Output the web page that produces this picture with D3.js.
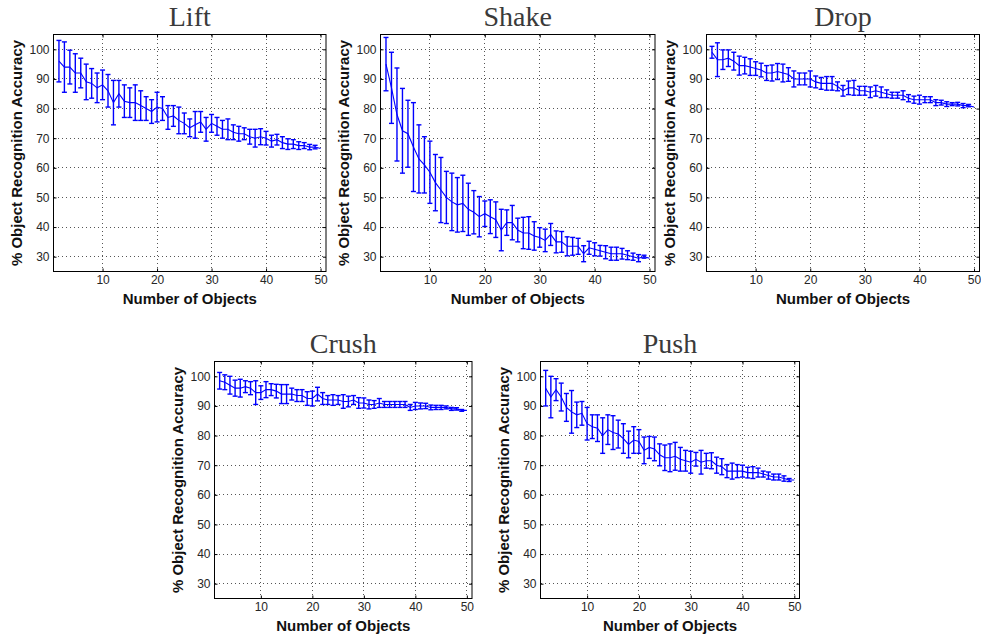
<!DOCTYPE html>
<html>
<head>
<meta charset="utf-8">
<script src="https://cdn.jsdelivr.net/npm/d3@7"></script>
<style>
  body { margin: 0; background: #fff; }
  svg { display: block; }
  .tick text { font-family: "Liberation Sans", Arial, sans-serif; font-size: 12px; fill: #262626; }
  .tick line { stroke: #000; }
</style>
</head>
<body>
<svg id="chart" width="981" height="635"></svg>
<script>
// number of objects on the x axis
var numObjects = [2,3,4,5,6,7,8,9,10,11,12,13,14,15,16,17,18,19,20,21,22,23,24,25,26,
  27,28,29,30,31,32,33,34,35,36,37,38,39,40,41,42,43,44,45,46,47,48,49,50];

var xTicks = [10, 20, 30, 40, 50];
var yTicks = [30, 40, 50, 60, 70, 80, 90, 100];

// mean accuracy and error (half bar height) per behaviour
var liftMean = [96,94,94,92,92,89,88.5,87,88,86,82,85,82.5,82,82,81,80,79,80.5,80,77,77.5,76,75,73.5,
  74.5,75.5,73,75,74,73,73,72,71.5,71.5,70.5,70,70.5,70,69,69.5,68.5,68,68,67.5,67.5,67,67,66.5];
var liftErr = [7,8.5,5.7,6.5,5,6,5,5,5,5.5,7.5,4.5,5.5,5,6,5,4,4,5,4,4,3.5,4.5,3.5,3,
  4.5,3.5,4,3,3,3,3.5,2.5,2.5,2,2.5,3,2.7,2.3,2,1.8,2,1.8,1.5,1.3,1,0.9,0.6,0];

var shakeMean = [95,87,78,72.5,71.5,67,63,61,58.5,55,52.5,50,48.5,47.5,48,46,45,43.5,44.5,43.5,42.5,39,41.5,41.5,39,
  38,38,37,36.5,35.5,37.5,35,35,33.5,33.5,33.5,31,33,32.5,32,31.5,31,31,31,30.5,30,29.5,30,29.5];
var shakeErr = [9,12,15.7,14.3,11.3,15,11.5,9.5,10.5,9.5,11,8.8,9.7,9.2,9.5,8.8,7.3,6.8,4.3,5.7,6,7,4.3,5.8,4,
  5.3,5.5,4.8,3.3,3.8,3.7,3.7,3.5,3.2,3,2.7,2.7,2.2,2.2,1.8,2.2,2.2,2.2,1.8,1.5,1.2,1.2,0.5,0];

var dropMean = [99,96.5,96.5,97,96,94.5,94.5,94,93.5,93,92,92,92.5,92,91.5,90,90,90,90,89,88.5,88.5,88.5,87.5,86,
  87,87,86,86,85.5,86,85.5,85,84.5,84.5,84.5,83.5,83,83,83,83,82,82,81.5,81.5,81.5,81,81,80.5];
var dropErr = [2,5.7,3.3,2.8,3,3.2,2.8,2.8,2.3,2.3,2.5,2.7,2.7,3,2.3,2.7,2,2,2.7,2,2,2.3,2.3,1.5,1.8,
  2.3,2.5,1.5,1.5,1.8,1.8,1.8,1.3,1,1,1.5,1.2,1.2,1.5,1,1,1,0.8,0.8,0.5,0.6,0.7,0.4,0];

var crushMean = [98.5,98,97,96,96,96.5,96,94.5,94.5,95.5,95.5,95,94,94,94,93.5,93.5,92.5,92.5,94,92.5,92,92,92,91.5,
  91.5,92,91,91,90.5,90.5,91,90.5,90.5,90.5,90.5,90.5,89.5,90,90,90,89.5,89.5,89.5,89.5,89,89,88.5,88.5];
var crushErr = [2.8,2.5,3,2.7,3,2,2.2,4,2.3,2.7,2,2.3,3.2,3.2,2,2,2,2.3,2.5,2.3,2,1.5,1.8,1.5,2.3,
  1.8,1.5,1.8,1.7,1.5,1.3,1.5,1,1,1,1,1,1,1.2,1,0.9,0.8,0.7,0.7,0.5,0.5,0.4,0.3,0];

var pushMean = [96,93,95.5,93,89.5,88,87,87.5,84,83,82.5,80,82,81,80.5,79,77,78.5,78,75,76,75.5,73.5,72.5,72.5,
  73,72,71.5,71,72,71,71.5,71.5,70,69.5,68,68,68,68,67.5,67.5,67.5,67,66.5,66,66,65.5,65,65];
var pushErr = [6,7,3.7,4.7,4.7,7.2,4.3,4,5.5,4,4.5,6,5,5.7,4.7,5,4.5,4.5,4,4.5,3.7,4,3.7,4.3,4.7,
  4.7,4,3.5,3.7,2.3,4,2.5,2.7,2.7,2.7,2.2,2.7,2.2,2,1.8,2,1.5,1,1.2,1,1,0.9,0.5,0];

var panels = [
  {title: "Lift",  mean: liftMean,  err: liftErr,  left: 53.5,  top: 34.5,  width: 272.5, height: 237},
  {title: "Shake", mean: shakeMean, err: shakeErr, left: 380.5, top: 34.5,  width: 274.5, height: 237},
  {title: "Drop",  mean: dropMean,  err: dropErr,  left: 706.5, top: 34.5,  width: 273,   height: 237},
  {title: "Crush", mean: crushMean, err: crushErr, left: 214.5, top: 361.5, width: 257.5, height: 237},
  {title: "Push",  mean: pushMean,  err: pushErr,  left: 540.5, top: 361.5, width: 259,   height: 237}
];

var svg = d3.select("#chart");
var blue = "#0000ff";

function drawPanel(p) {
  var g = svg.append("g").attr("transform", "translate(" + p.left + "," + p.top + ")");
  var x = d3.scaleLinear().domain([1, 51]).range([0, p.width]);
  var y = d3.scaleLinear().domain([25, 105]).range([p.height, 0]);

  // dotted grid
  g.append("g").selectAll("line").data(xTicks).enter().append("line")
    .attr("x1", d => x(d)).attr("x2", d => x(d))
    .attr("y1", 0).attr("y2", p.height)
    .attr("stroke", "#555").attr("stroke-width", 1).attr("stroke-dasharray", "1,3")
    .attr("shape-rendering", "crispEdges");
  g.append("g").selectAll("line").data(yTicks).enter().append("line")
    .attr("x1", 0).attr("x2", p.width)
    .attr("y1", d => y(d)).attr("y2", d => y(d))
    .attr("stroke", "#555").attr("stroke-width", 1).attr("stroke-dasharray", "1,3")
    .attr("shape-rendering", "crispEdges");

  // axes, ticks pointing inward (matlab style)
  var xb = g.append("g").attr("transform", "translate(0," + p.height + ")")
    .call(d3.axisBottom(x).tickValues(xTicks).tickSizeInner(-3).tickSizeOuter(0).tickPadding(3.5));
  var yl = g.append("g")
    .call(d3.axisLeft(y).tickValues(yTicks).tickSizeInner(-3).tickSizeOuter(0).tickPadding(4));
  var xt = g.append("g")
    .call(d3.axisTop(x).tickValues(xTicks).tickSizeInner(-3).tickSizeOuter(0).tickFormat(""));
  var yr = g.append("g").attr("transform", "translate(" + p.width + ",0)")
    .call(d3.axisRight(y).tickValues(yTicks).tickSizeInner(-3).tickSizeOuter(0).tickFormat(""));
  [xb, yl, xt, yr].forEach(a => a.select(".domain").remove());

  // error bars
  var bars = g.append("g").selectAll("g")
    .data(numObjects.map((n, i) => ({n: n, m: p.mean[i], e: p.err[i]})).filter(d => d.e > 0))
    .enter().append("g")
    .attr("stroke", blue).attr("stroke-width", 1.4);
  bars.append("line")
    .attr("x1", d => x(d.n)).attr("x2", d => x(d.n))
    .attr("y1", d => y(d.m + d.e)).attr("y2", d => y(d.m - d.e));
  bars.append("line")
    .attr("x1", d => x(d.n) - 2.5).attr("x2", d => x(d.n) + 2.5)
    .attr("y1", d => y(d.m + d.e)).attr("y2", d => y(d.m + d.e));
  bars.append("line")
    .attr("x1", d => x(d.n) - 2.5).attr("x2", d => x(d.n) + 2.5)
    .attr("y1", d => y(d.m - d.e)).attr("y2", d => y(d.m - d.e));

  // mean line
  var line = d3.line().x((d, i) => x(numObjects[i])).y(d => y(d));
  g.append("path").datum(p.mean)
    .attr("d", line).attr("fill", "none")
    .attr("stroke", blue).attr("stroke-width", 1.1);

  // frame
  g.append("rect").attr("x", 0).attr("y", 0)
    .attr("width", p.width).attr("height", p.height)
    .attr("fill", "none").attr("stroke", "#000").attr("stroke-width", 1);

  // title and axis labels
  g.append("text")
    .attr("x", p.width / 2).attr("y", -8.5)
    .attr("text-anchor", "middle")
    .style("font-family", "'Liberation Serif', 'Times New Roman', serif")
    .style("font-size", "28px").style("fill", "#3a3a3a")
    .text(p.title);

  g.append("text")
    .attr("x", p.width / 2).attr("y", p.height + 32)
    .attr("text-anchor", "middle")
    .style("font-family", "'Liberation Sans', Arial, sans-serif")
    .style("font-size", "15px").style("font-weight", "bold").style("fill", "#111")
    .text("Number of Objects");

  g.append("text")
    .attr("transform", "translate(-32," + (p.height / 2) + ") rotate(-90)")
    .attr("text-anchor", "middle")
    .style("font-family", "'Liberation Sans', Arial, sans-serif")
    .style("font-size", "15px").style("font-weight", "bold").style("fill", "#111")
    .text("% Object Recognition Accuracy");
}

panels.forEach(drawPanel);
</script>
</body>
</html>
